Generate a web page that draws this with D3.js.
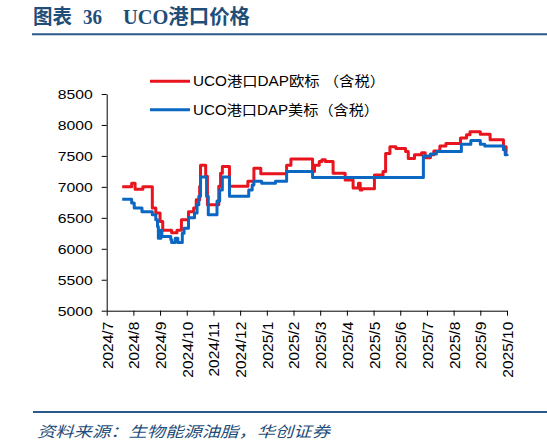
<!DOCTYPE html>
<html>
<head>
<meta charset="utf-8">
<script src="https://cdn.jsdelivr.net/npm/d3@7"></script>
<style>
  body { margin: 0; background: #fff; }
  svg { display: block; }
  .axis text { font-family: "Liberation Sans", Arial, sans-serif; fill: #000; }
  .axis path, .axis line { stroke: #000; }
</style>
</head>
<body>
<div class="chart"></div>
<script>
// month ticks on the x axis
const monthLabels = ['2024/7','2024/8','2024/9','2024/10','2024/11','2024/12','2025/1','2025/2',
  '2025/3','2025/4','2025/5','2025/6','2025/7','2025/8','2025/9','2025/10'];
const yTicks = [5000, 5500, 6000, 6500, 7000, 7500, 8000, 8500];

const seriesNames = ['UCO港口DAP欧标 （含税）', 'UCO港口DAP美标（含税）'];

// UCO port DAP, EU standard (tax incl.) - change points
const euDates = ['2024-07-19','2024-07-30','2024-08-03','2024-08-12','2024-08-23','2024-08-27','2024-09-01',
  '2024-09-04','2024-09-14','2024-09-20','2024-09-25','2024-10-03','2024-10-09','2024-10-12','2024-10-16',
  '2024-10-17','2024-10-23','2024-10-25','2024-11-07','2024-11-09','2024-11-11','2024-11-19','2024-12-10',
  '2024-12-17','2024-12-25','2025-01-24','2025-01-29','2025-02-21','2025-02-23','2025-02-28','2025-03-03',
  '2025-03-07','2025-03-16','2025-03-30','2025-04-08','2025-04-14','2025-04-16','2025-04-18','2025-05-02',
  '2025-05-12','2025-05-15','2025-05-20','2025-05-27','2025-06-07','2025-06-10','2025-06-17','2025-06-25',
  '2025-06-29','2025-07-05','2025-07-09','2025-07-16','2025-07-23','2025-08-09','2025-08-16','2025-08-20',
  '2025-09-01','2025-09-12','2025-09-27','2025-09-30','2025-10-01'];
const euValues = [7000, 7060, 6960, 7000, 6660, 6580, 6440,
  6300, 6260, 6300, 6470, 6600, 6660, 6790, 7010,
  7350, 7170, 6710, 7010, 7220, 7330, 7010, 7090,
  7300, 7210, 7350, 7450, 7250, 7350, 7410, 7440,
  7410, 7220, 7110, 6980, 7060, 6950, 6970, 7190,
  7250, 7540, 7650, 7620, 7570, 7460, 7520, 7550,
  7470, 7520, 7580, 7660, 7700, 7790, 7840, 7890,
  7850, 7760, 7650, 7550, 7550];

// UCO port DAP, US standard (tax incl.) - change points
const usDates = ['2024-07-19','2024-07-30','2024-08-02','2024-08-11','2024-08-23','2024-08-27','2024-08-29',
  '2024-08-30','2024-09-02','2024-09-03','2024-09-13','2024-09-14','2024-09-18','2024-09-21','2024-09-26',
  '2024-09-28','2024-10-03','2024-10-10','2024-10-13','2024-10-15','2024-10-17','2024-10-24','2024-10-26',
  '2024-11-05','2024-11-08','2024-11-11','2024-11-19','2024-12-11','2024-12-15','2024-12-17','2024-12-26',
  '2025-01-11','2025-01-24','2025-02-21','2025-06-27','2025-07-05','2025-07-12','2025-08-10','2025-08-21',
  '2025-09-01','2025-09-06','2025-09-27','2025-09-29','2025-10-01'];
const usValues = [6800, 6740, 6660, 6600, 6550, 6470, 6360,
  6170, 6300, 6200, 6150, 6100, 6170, 6100, 6250,
  6330, 6500, 6580, 6710, 6850, 7160, 6850, 6550,
  6770, 6950, 7160, 6850, 6950, 7030, 7090, 7060,
  7090, 7250, 7150, 7500, 7530, 7570, 7690, 7750,
  7690, 7660, 7600, 7520, 7500];

const W = 547, H = 447;
const plot = {left: 106.7, right: 507, top: 94, bottom: 310.7};
const navy = '#1f4e79';
const red = '#e8141e', blue = '#0a67c2';

const svg = d3.select('.chart').append('svg')
  .attr('width', W).attr('height', H);

// title + rules
const title = svg.append('g')
  .attr('fill', navy)
  .style('font-family', '"Liberation Serif", "Times New Roman", "Noto Sans CJK SC", serif')
  .style('font-weight', 'bold')
  .style('font-size', '20px');
[['图表', 33, 39], ['36', 83, 19], ['UCO港口价格', 123, 127]].forEach(t => {
  title.append('text').attr('x', t[1]).attr('y', 24)
    .attr('textLength', t[2]).attr('lengthAdjust', 'spacingAndGlyphs')
    .text(t[0]);
});
svg.append('line').attr('x1', 32).attr('x2', W).attr('y1', 34.3).attr('y2', 34.3)
  .attr('stroke', '#2a5a8c').attr('stroke-width', 2);
svg.append('line').attr('x1', 33).attr('x2', W).attr('y1', 412).attr('y2', 412)
  .attr('stroke', '#2a5a8c').attr('stroke-width', 2);

svg.append('text')
  .attr('x', 37).attr('y', 437)
  .attr('textLength', 293).attr('lengthAdjust', 'spacingAndGlyphs')
  .attr('fill', navy)
  .style('font-family', '"Noto Sans CJK SC", sans-serif')
  .style('font-style', 'italic')
  .style('font-size', '15px')
  .text('资料来源：生物能源油脂，华创证券');

// scales
const parseMonth = d3.timeParse('%Y/%m');
const monthDates = monthLabels.map(parseMonth);
const step = (plot.right - plot.left) / (monthDates.length - 1);
const x = d3.scaleTime()
  .domain(monthDates)
  .range(monthDates.map((d, i) => plot.left + i * step));
const y = d3.scaleLinear().domain([5000, 8500]).range([plot.bottom, plot.top]);

const parseDay = d3.timeParse('%Y-%m-%d');
const eu = euDates.map((d, i) => ({date: parseDay(d), value: euValues[i]}));
const us = usDates.map((d, i) => ({date: parseDay(d), value: usValues[i]}));

// axes
const xAxis = d3.axisBottom(x)
  .tickValues(monthDates)
  .tickFormat(d3.timeFormat('%Y/%-m'))
  .tickSize(5).tickSizeOuter(0);
svg.append('g')
  .attr('class', 'axis x-axis')
  .attr('transform', `translate(0,${plot.bottom})`)
  .call(xAxis)
  .call(g => g.selectAll('text')
    .attr('transform', 'rotate(-90)')
    .attr('text-anchor', 'end')
    .attr('x', -11).attr('y', 0).attr('dy', '.35em')
    .style('font-size', '15.5px'));

const yAxis = d3.axisLeft(y)
  .tickValues(yTicks)
  .tickFormat(d3.format('d'))
  .tickSize(5).tickPadding(9).tickSizeOuter(0);
svg.append('g')
  .attr('class', 'axis y-axis')
  .attr('transform', `translate(${plot.left},0)`)
  .call(yAxis)
  .call(g => g.selectAll('text')
    .style('font-size', '13.5px')
    .attr('textLength', 35).attr('lengthAdjust', 'spacingAndGlyphs'));

// lines
const line = d3.line()
  .curve(d3.curveStepAfter)
  .x(d => x(d.date))
  .y(d => y(d.value));

svg.append('path').datum(eu)
  .attr('d', line)
  .attr('fill', 'none').attr('stroke', red)
  .attr('stroke-width', 3).attr('stroke-linejoin', 'round');
svg.append('path').datum(us)
  .attr('d', line)
  .attr('fill', 'none').attr('stroke', blue)
  .attr('stroke-width', 3).attr('stroke-linejoin', 'round');

// legend
const legend = svg.selectAll('.legend')
  .data(seriesNames)
  .enter().append('g')
  .attr('class', 'legend')
  .attr('transform', (d, i) => `translate(150,${81.3 + i * 28.4})`);
legend.append('line')
  .attr('x1', 0).attr('x2', 40)
  .attr('stroke', (d, i) => i === 0 ? red : blue)
  .attr('stroke-width', 3);
legend.append('text')
  .attr('x', 43).attr('y', 5)
  .attr('textLength', (d, i) => i === 0 ? 192 : 186)
  .attr('lengthAdjust', 'spacingAndGlyphs')
  .style('font-family', '"Liberation Sans", Arial, "Noto Sans CJK SC", sans-serif')
  .style('font-size', '14px')
  .text(d => d);
</script>
</body>
</html>
